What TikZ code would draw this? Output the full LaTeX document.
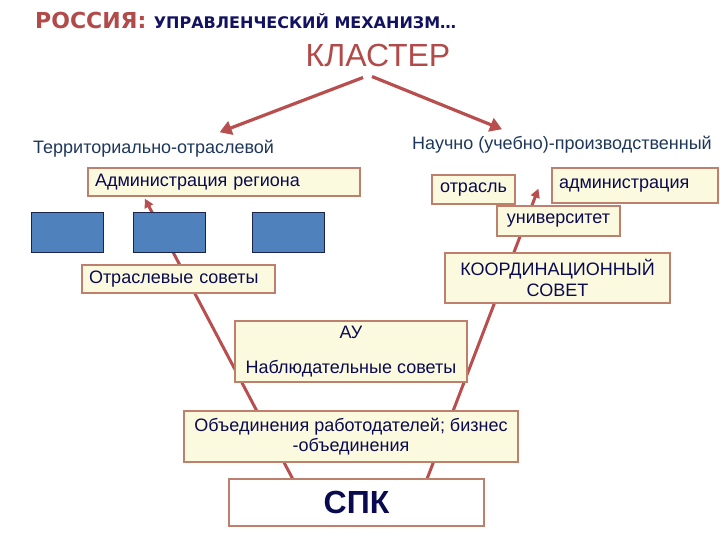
\documentclass[tikz,border=0pt]{standalone}
\usepackage{fontspec}
\setmainfont{Liberation Sans}
\newfontfamily\headfont{DejaVu Sans}
\usetikzlibrary{calc,arrows.meta}

\definecolor{headred}{RGB}{178,74,74}
\definecolor{headnavy}{RGB}{18,18,96}
\definecolor{kindtext}{RGB}{30,55,90}
\definecolor{boxtext}{RGB}{10,10,80}
\definecolor{boxfill}{RGB}{252,250,222}
\definecolor{boxline}{RGB}{190,128,108}
\definecolor{unitblue}{RGB}{79,129,189}
\definecolor{unitline}{RGB}{25,35,75}
\definecolor{linkred}{RGB}{184,78,78}

\pgfdeclarelayer{behind}
\pgfsetlayers{behind,main}

\begin{document}
\begin{tikzpicture}[x=1pt,y=-1pt,
  box/.style={draw=boxline, fill=boxfill, line width=1.2pt, inner sep=0pt,
    text=boxtext, font=\fontsize{18}{20}\selectfont},
  leftbox/.style={box, inner xsep=7pt, align=left},
  unit/.style={draw=unitline, fill=unitblue, line width=1pt,
    minimum width=72pt, minimum height=39pt, inner sep=0pt},
  kind/.style={text=kindtext, font=\fontsize{18}{21}\selectfont, inner sep=0pt},
  branch/.style={draw=linkred, line width=3.2pt, -{Triangle[length=12pt,width=14pt]}},
  link/.style={draw=linkred, line width=3pt, -{Triangle[length=9pt,width=9pt]}}]

  \useasboundingbox (0,0) rectangle (720,540);

  % heading
  \node[anchor=base west, inner sep=0pt, text=headred,
    font=\headfont\bfseries\fontsize{22}{26}\selectfont] (rossiya) at (35,29) {РОССИЯ:};
  \node[anchor=base west, inner sep=0pt, text=headnavy,
    font=\headfont\bfseries\fontsize{16}{19}\selectfont] (mech)
    at ([xshift=7pt]rossiya.base east) {УПРАВЛЕНЧЕСКИЙ МЕХАНИЗМ…};
  \node[inner sep=0pt, text=headred, font=\fontsize{32}{36}\selectfont] (klaster)
    at (378,55) {КЛАСТЕР};

  % two kinds of cluster
  \node[kind, anchor=west] (terr) at (33,149) {Территориально-отраслевой};
  \node[kind, anchor=west] (nauch) at (412,145) {Научно (учебно)-производственный};

  % upper row of boxes
  \node[leftbox, text width=258pt, minimum height=28pt] (admreg) at (224,182)
    {Администрация региона};
  \node[box, minimum width=83pt, minimum height=29pt] (otrasl) at (473.5,189.5) {отрасль};
  \node[leftbox, text width=152pt, minimum height=35pt] (adm) at (635,185.5)
    {администрация};
  \node[box, minimum width=123pt, minimum height=30pt] (univ) at (558.5,221) {университет};

  % blue blocks
  \node[unit] (unitA) at (67,232.5) {};
  \node[unit] (unitB) at (169,232.5) {};
  \node[unit] (unitC) at (288,232.5) {};

  % councils
  \node[leftbox, text width=179pt, minimum height=28pt] (otrsov) at (178.5,279)
    {Отраслевые советы};
  \node[box, align=center, minimum width=225pt, minimum height=50pt,
    font=\fontsize{18}{21}\selectfont] (koord) at (557.5,278)
    {КООРДИНАЦИОННЫЙ\\СОВЕТ};
  \node[box, align=center, minimum width=232pt, minimum height=61pt] (au) at (351,351.5)
    {АУ\\[15pt]Наблюдательные советы};
  \node[box, align=center, minimum width=334pt, minimum height=51pt] (obed) at (351,436.5)
    {Объединения работодателей; бизнес\\-объединения};
  \node[draw=boxline, fill=white, line width=1.2pt, minimum width=255pt, minimum height=47pt,
    inner sep=0pt, text=boxtext, font=\bfseries\fontsize{32}{36}\selectfont] (spk)
    at (356.5,502.5) {СПК};

  % connectors
  \draw[branch] ($(klaster.south)+(-15,11)$) -- ($(terr.north)+(66,-8)$);
  \draw[branch] ($(klaster.south)+(-6,10)$) -- ($(nauch.north)+(-60,-7)$);
  \begin{pgfonlayer}{behind}
    \draw[link] ($(spk.north west)!0.25!(spk.north east)$)
      -- ($(admreg.south west)!0.21!(admreg.south east)+(0,2)$);
    \draw[link] ($(spk.north west)!0.776!(spk.north east)$)
      -- ($(adm.south west)+(-13,-15)$);
  \end{pgfonlayer}
\end{tikzpicture}
\end{document}
